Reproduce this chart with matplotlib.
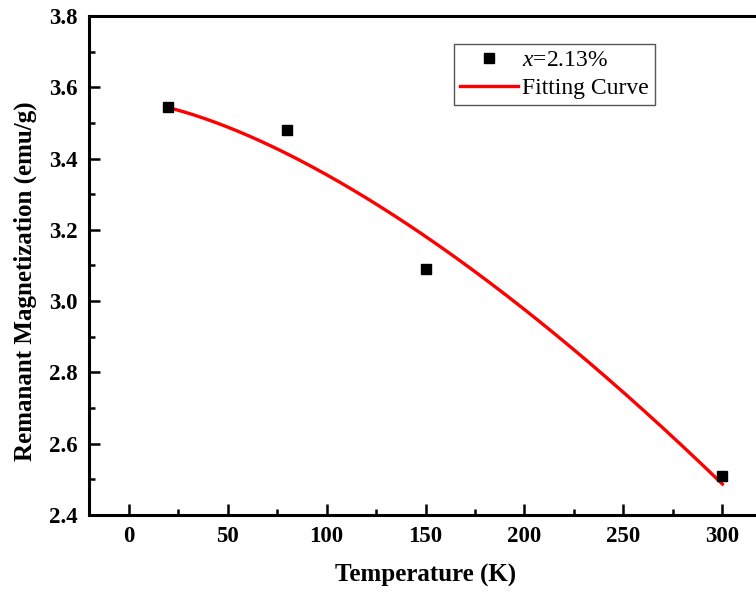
import numpy as np
import matplotlib
matplotlib.use("Agg")
import matplotlib.pyplot as plt
from matplotlib.ticker import MultipleLocator

# Measured remanent magnetization
temperature = [20, 80, 150, 300]          # K
remanence = [3.545, 3.48, 3.09, 2.51]     # emu/g
series_label = r"$\it{x}$=2.13%"
fit_label = "Fitting Curve"

x_ticks = [0, 50, 100, 150, 200, 250, 300]
y_ticks = [2.4, 2.6, 2.8, 3.0, 3.2, 3.4, 3.6, 3.8]

# Bloch T^(3/2) law fitted to the measurements by least squares
t_arr = np.asarray(temperature, dtype=float)
slope, intercept = np.polyfit(t_arr ** 1.5, np.asarray(remanence), 1)
t_fit = np.linspace(min(temperature), max(temperature), 200)
m_fit = intercept + slope * t_fit ** 1.5

plt.rcParams["font.family"] = ["Liberation Serif", "DejaVu Serif"]
plt.rcParams["mathtext.fontset"] = "custom"
plt.rcParams["mathtext.rm"] = "Liberation Serif"
plt.rcParams["mathtext.it"] = "Liberation Serif:italic"

fig = plt.figure(figsize=(7.56, 5.96), dpi=100)
ax = fig.add_axes([89 / 756, 81 / 596, 673 / 756, 499 / 596])

ax.plot(t_fit, m_fit, color="#ff0000", lw=2.4, label=fit_label, zorder=2)
ax.plot(temperature, remanence, ls="none", marker="s", ms=7.5,
        color="black", label=series_label, zorder=3)

ax.set_xlim(-20, 320)
ax.set_ylim(2.4, 3.8)
ax.set_xticks(x_ticks)
ax.set_yticks(y_ticks)
ax.set_xticklabels([str(v) for v in x_ticks])
ax.set_yticklabels([f"{v:.1f}" for v in y_ticks])
ax.xaxis.set_minor_locator(MultipleLocator(25))
ax.yaxis.set_minor_locator(MultipleLocator(0.1))

for side in ["left", "bottom", "top", "right"]:
    ax.spines[side].set_linewidth(2.2)

ax.tick_params(which="both", direction="in", top=False, right=False,
               width=1.8, labelsize=16.5, pad=8)
ax.tick_params(which="major", length=8)
ax.tick_params(which="minor", length=4.5)
for lbl in ax.get_xticklabels() + ax.get_yticklabels():
    lbl.set_fontweight("bold")

ax.set_xlabel("Temperature (K)", fontsize=18, fontweight="bold")
ax.set_ylabel("Remanant Magnetization (emu/g)", fontsize=18,
              fontweight="bold")
ax.xaxis.set_label_coords(0.5, -0.098)
ax.yaxis.set_label_coords(-0.078, 0.469)

handles, labels = ax.get_legend_handles_labels()
leg = ax.legend(handles[::-1], labels[::-1], loc="upper left",
                bbox_to_anchor=(0.542, 0.944), fontsize=17, frameon=True,
                fancybox=False, edgecolor="#555555", framealpha=1,
                handlelength=2.45, handletextpad=0.2, borderpad=0.25,
                borderaxespad=0, labelspacing=0.25)
leg.get_frame().set_linewidth(1.0)

fig.savefig("out.png", dpi=100)
